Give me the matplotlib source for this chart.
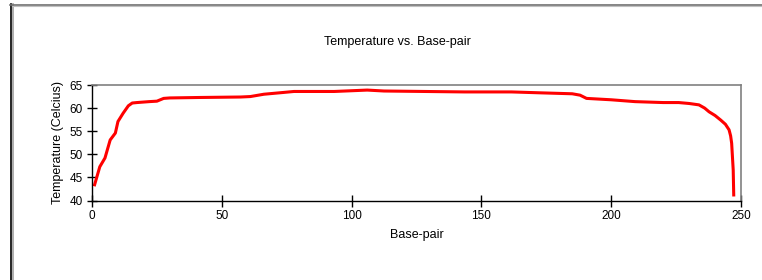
import matplotlib
matplotlib.use("Agg")
import matplotlib.pyplot as plt
from matplotlib.lines import Line2D

base_pair = [1, 3, 5, 7, 9, 10, 12, 14, 15.5, 17.3, 22, 25, 27.6, 30, 41.7, 57.2, 61, 66.2, 74, 77.8,
             93.3, 106, 112.5, 143.5, 161.6, 173, 185, 188, 190.5, 200, 209.2, 220, 226, 230,
             233.8, 236, 237.7, 240, 242.2, 244, 245.4, 246, 246.4, 247, 247.2]
temperature = [43.4, 47.3, 49.2, 53.1, 54.6, 57.1, 58.9, 60.5, 61.1, 61.2, 61.4, 61.5, 62.1, 62.2,
               62.3, 62.4, 62.5, 63.0, 63.4, 63.6, 63.6, 63.9, 63.7, 63.5, 63.5, 63.3, 63.1, 62.8,
               62.1, 61.8, 61.4, 61.2, 61.2, 61.0, 60.7, 60.0, 59.2, 58.4, 57.4, 56.5, 55.3, 54.0,
               52.4, 46.6, 41.2]
x_ticks = [0, 50, 100, 150, 200, 250]
y_ticks = [40, 45, 50, 55, 60, 65]

plt.rcParams['font.family'] = ['Liberation Sans', 'DejaVu Sans']

W, H = 762, 280
fig = plt.figure(figsize=(W / 100, H / 100), dpi=100)
fig.patch.set_facecolor('white')

ax = fig.add_axes([92 / W, 1 - 200.5 / H, (741 - 92) / W, (200.5 - 85) / H])
ax.plot(base_pair, temperature, color='#ff0000', lw=2.2, solid_joinstyle='round')
ax.set_xlim(0, 250)
ax.set_ylim(40, 65)
ax.set_xticks(x_ticks)
ax.set_yticks(y_ticks)
ax.tick_params(labelsize=8.5, color='black', width=1, pad=3)
ax.tick_params(axis='x', direction='inout', length=8)
ax.tick_params(axis='y', direction='inout', length=7)
for s in ['left', 'bottom']:
    ax.spines[s].set_color('black')
    ax.spines[s].set_linewidth(1)
for s in ['top', 'right']:
    ax.spines[s].set_color('#808080')
    ax.spines[s].set_linewidth(1.2)
ax.set_xlabel('Base-pair', fontsize=9, labelpad=5)
ax.set_ylabel('Temperature (Celcius)', fontsize=9, labelpad=4)

fig.text(397 / W, 1 - 42 / H, 'Temperature vs. Base-pair', ha='center', va='center', fontsize=9)

# outer frame
fig.add_artist(Line2D([10.5 / W, 10.5 / W], [0, 1 - 4 / H], transform=fig.transFigure, color='black', lw=1.2))
fig.add_artist(Line2D([12.5 / W, 12.5 / W], [0, 1 - 4 / H], transform=fig.transFigure, color='#a0a0a0', lw=1.2))
fig.add_artist(Line2D([10 / W, 1], [1 - 4.5 / H, 1 - 4.5 / H], transform=fig.transFigure, color='#707070', lw=1.2))
fig.add_artist(Line2D([12 / W, 1], [1 - 6 / H, 1 - 6 / H], transform=fig.transFigure, color='#c0c0c0', lw=0.8))

fig.savefig('out.png', dpi=100, facecolor='white')
